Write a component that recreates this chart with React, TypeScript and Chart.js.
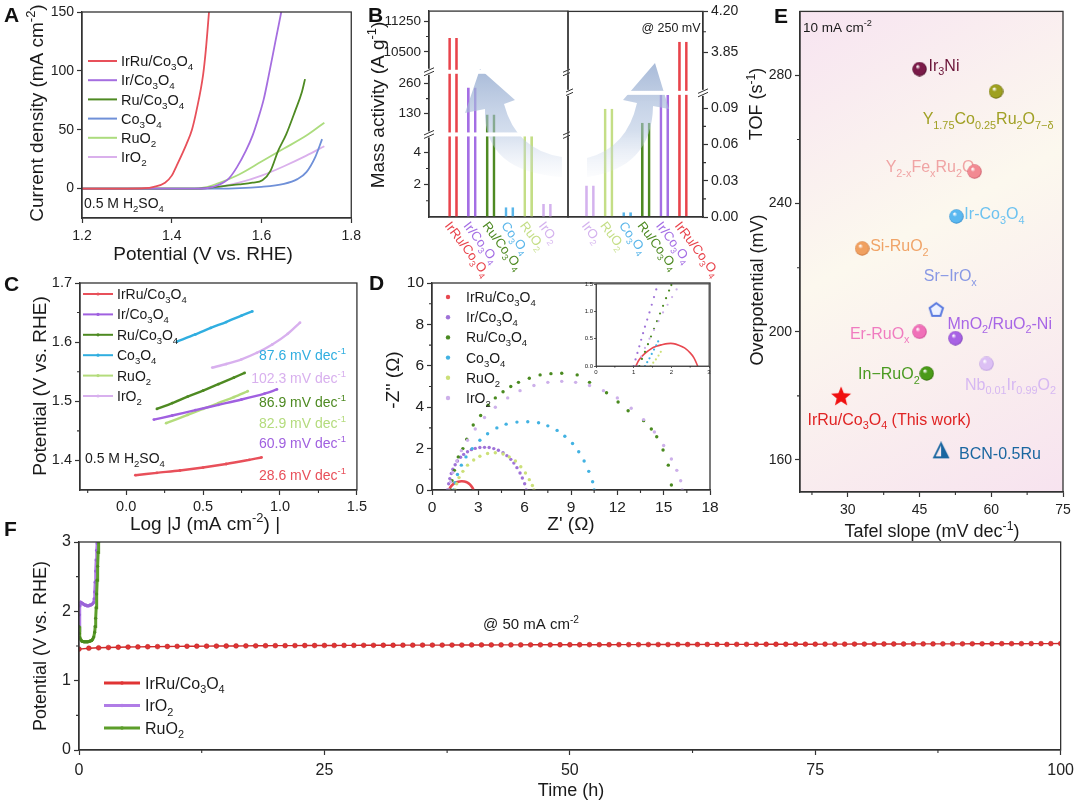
import { useEffect, useRef } from 'react';
import { Chart, registerables } from 'chart.js';

Chart.register(...registerables);

const FONT = '"Liberation Sans", Arial, Helvetica, sans-serif';
Chart.defaults.font.family = FONT;

/* ============================ DATA ============================ */
const seriesNames = ['IrRu/Co_{3}O_{4}', 'Ir/Co_{3}O_{4}', 'Ru/Co_{3}O_{4}', 'Co_{3}O_{4}', 'RuO_{2}', 'IrO_{2}'];

// ---- A: polarization curves (V vs RHE, mA cm-2)
const aIrRuV = [1.2, 1.3, 1.34, 1.36, 1.385, 1.4, 1.411, 1.433, 1.445, 1.455, 1.47, 1.476, 1.483];
const aIrRuJ = [0, 0, 0.3, 1.5, 5, 11, 19.5, 38, 50, 66, 97, 118, 150];
const aIrV = [1.2, 1.45, 1.48, 1.5, 1.527, 1.545, 1.565, 1.58, 1.593, 1.605, 1.615, 1.631, 1.644];
const aIrJ = [0, 0, 0.5, 2.5, 8.5, 18, 32, 45, 60, 76, 94, 125, 150];
const aRuV = [1.2, 1.46, 1.5, 1.55, 1.58, 1.602, 1.62, 1.637, 1.655, 1.675, 1.69, 1.697];
const aRuJ = [0, 0, 1.5, 3.5, 5, 7, 15, 32, 46, 66, 82, 93];
const aCoV = [1.2, 1.5, 1.6, 1.65, 1.68, 1.7, 1.72, 1.735];
const aCoJ = [0, 0, 1.5, 4, 8, 14, 27, 42];
const aRuO2V = [1.2, 1.45, 1.48, 1.5, 1.55, 1.6, 1.65, 1.7, 1.74];
const aRuO2J = [0, 0, 1.5, 4, 12, 23, 34, 45, 56];
const aIrO2V = [1.2, 1.48, 1.5, 1.55, 1.6, 1.65, 1.7, 1.74];
const aIrO2J = [0, 0, 1, 5, 11, 19, 28, 36];
const aXTicks = [1.2, 1.4, 1.6, 1.8];
const aYTicks = [0, 50, 100, 150];

// ---- B: mass activity (broken axes)
const bLeftVals = [10840, 243, 126, 0.6, 5.0, 0.8]; // A g-1, order = seriesNames
const bRightVals = [0.026, 0.0895, 0.004, 0.078, 0.101, 3.94]; // order = reversed seriesNames
const bLeftTicks = [2, 4, 130, 260, 10500, 11250];
const bLeftMinor = [1, 3, 195, 10875];
const bRightTicks = [0, 0.03, 0.06, 0.09, 3.85, 4.2];
const bRightMinor = [0.015, 0.045, 0.075, 4.025];
const bLeftSegs = [[0, 5.1], [39, 312], [10016, 11492]];
const bLeftDisp = [[0, 83], [83, 146], [146, 207]];
const bRightSegs = [[0, 0.1027], [3.5, 4.2]];
const bRightDisp = [[0, 125], [125, 207]];

// ---- C: Tafel plots (log J, V)
const cIrRuX = [0.06, 0.2, 0.35, 0.5, 0.65, 0.8, 0.88];
const cIrRuY = [1.375, 1.379, 1.383, 1.388, 1.394, 1.401, 1.405];
const cIrX = [0.18, 0.3, 0.45, 0.6, 0.75, 0.9, 0.98];
const cIrY = [1.469, 1.476, 1.485, 1.494, 1.503, 1.513, 1.52];
const cRuX = [0.2, 0.3, 0.4, 0.5, 0.6, 0.7, 0.77];
const cRuY = [1.487, 1.497, 1.508, 1.518, 1.529, 1.54, 1.548];
const cCoX = [0.33, 0.45, 0.55, 0.65, 0.75, 0.82];
const cCoY = [1.601, 1.613, 1.624, 1.634, 1.645, 1.652];
const cRuO2X = [0.26, 0.4, 0.5, 0.6, 0.7, 0.79];
const cRuO2Y = [1.463, 1.477, 1.487, 1.497, 1.507, 1.517];
const cIrO2X = [0.56, 0.65, 0.75, 0.85, 0.95, 1.05, 1.13];
const cIrO2Y = [1.557, 1.563, 1.571, 1.582, 1.596, 1.614, 1.633];
const cSlopes = [28.6, 60.9, 86.9, 87.6, 82.9, 102.3];

// ---- D: Nyquist plots (Z', -Z'')
const dIrRuX = [1.1, 1.2, 1.35, 1.5, 1.7, 1.9, 2.1, 2.3, 2.45, 2.6, 2.7];
const dIrRuY = [0, 0.15, 0.27, 0.35, 0.4, 0.42, 0.41, 0.36, 0.27, 0.13, 0];
const dIrX = [1.0, 1.08, 1.15, 1.25, 1.35, 1.5, 1.65, 1.85, 2.05, 2.3, 2.55, 2.8, 3.1, 3.4, 3.7, 4.0, 4.3, 4.6, 4.85, 5.1, 5.3, 5.5, 5.7, 5.85, 6.0, 6.1];
const dIrY = [0, 0.3, 0.55, 0.8, 1.0, 1.22, 1.4, 1.58, 1.72, 1.85, 1.95, 2.01, 2.05, 2.06, 2.05, 2.0, 1.92, 1.8, 1.66, 1.48, 1.3, 1.08, 0.82, 0.58, 0.3, 0];
const dRuX = [1.2, 1.3, 1.45, 1.7, 2.0, 2.25, 2.67, 3.15, 3.63, 4.1, 4.6, 5.1, 5.6, 6.3, 7.0, 7.7, 8.4, 9.4, 10.2, 11.3, 12.05, 12.7, 13.7, 14.2, 14.55, 14.96, 15.3, 15.5];
const dRuY = [0, 0.45, 0.95, 1.6, 2.0, 2.45, 3.14, 3.6, 4.1, 4.45, 4.75, 5.0, 5.2, 5.4, 5.56, 5.62, 5.64, 5.56, 5.2, 4.7, 4.25, 3.83, 3.35, 2.95, 2.57, 1.93, 1.2, 0.24];
const dCoX = [1.4, 1.5, 1.65, 1.9, 2.2, 2.6, 3.1, 3.6, 4.2, 4.8, 5.5, 6.2, 6.9, 7.5, 8.1, 8.6, 9.1, 9.5, 9.85, 10.15, 10.4, 10.5];
const dCoY = [0, 0.35, 0.75, 1.2, 1.6, 2.0, 2.4, 2.72, 3.0, 3.18, 3.28, 3.3, 3.25, 3.1, 2.88, 2.6, 2.25, 1.85, 1.4, 0.9, 0.4, 0];
const dRuO2X = [1.5, 1.6, 1.75, 2.0, 2.3, 2.7, 3.1, 3.6, 4.1, 4.6, 5.0, 5.4, 5.75, 6.05, 6.3, 6.5, 6.6];
const dRuO2Y = [0, 0.3, 0.6, 0.9, 1.2, 1.45, 1.63, 1.76, 1.8, 1.74, 1.6, 1.4, 1.12, 0.82, 0.5, 0.22, 0];
const dIrO2X = [1.1, 1.2, 1.35, 1.6, 1.9, 2.3, 2.8, 3.4, 4.1, 4.9, 5.7, 6.6, 7.5, 8.4, 9.3, 10.2, 11.1, 12.0, 12.9, 13.7, 14.4, 15.0, 15.5, 15.85, 16.1, 16.2];
const dIrO2Y = [0, 0.4, 0.85, 1.4, 1.9, 2.4, 2.95, 3.5, 4.0, 4.45, 4.8, 5.05, 5.2, 5.25, 5.2, 5.05, 4.8, 4.45, 3.95, 3.4, 2.8, 2.15, 1.5, 0.95, 0.45, 0];
// inset (high-frequency region)
const iIrRuX = [1.06, 1.15, 1.3, 1.45, 1.6, 1.75, 1.9, 2.05, 2.2, 2.35, 2.5, 2.6, 2.7];
const iIrRuY = [0, 0.12, 0.23, 0.31, 0.36, 0.39, 0.41, 0.41, 0.38, 0.33, 0.24, 0.15, 0];
const iIrX = [1.0, 1.05, 1.1, 1.15, 1.2, 1.25, 1.3, 1.36, 1.42, 1.48, 1.54, 1.6];
const iIrY = [0, 0.12, 0.24, 0.36, 0.48, 0.6, 0.72, 0.85, 0.98, 1.12, 1.26, 1.4];
const iRuX = [1.15, 1.22, 1.3, 1.38, 1.46, 1.54, 1.62, 1.7, 1.78, 1.86, 1.94, 2.0];
const iRuY = [0, 0.13, 0.26, 0.4, 0.54, 0.68, 0.82, 0.96, 1.1, 1.24, 1.38, 1.48];
const iCoX = [1.3, 1.36, 1.42, 1.48, 1.54, 1.6, 1.65];
const iCoY = [0, 0.07, 0.14, 0.22, 0.3, 0.38, 0.45];
const iRuO2X = [1.45, 1.52, 1.59, 1.66, 1.72];
const iRuO2Y = [0, 0.06, 0.12, 0.19, 0.26];
const iIrO2X = [1.1, 1.2, 1.3, 1.42, 1.54, 1.66, 1.78, 1.9, 2.02, 2.14];
const iIrO2Y = [0, 0.17, 0.33, 0.5, 0.66, 0.82, 0.98, 1.12, 1.26, 1.4];

// ---- E: comparison (Tafel slope, overpotential)
const eNames = ['Ir_{3}Ni', 'Y_{1.75}Co_{0.25}Ru_{2}O_{7−δ}', 'Y_{2-x}Fe_{x}Ru_{2}O_{7}', 'Ir-Co_{3}O_{4}', 'Si-RuO_{2}', 'Sr−IrO_{x}', 'Er-RuO_{x}', 'MnO_{2}/RuO_{2}-Ni', 'Nb_{0.01}Ir_{0.99}O_{2}', 'In−RuO_{2}', 'IrRu/Co_{3}O_{4} (This work)', 'BCN-0.5Ru'];
const eTafel = [45, 61, 56.5, 52.7, 33, 48.5, 45, 52.5, 59, 46.5, 28.6, 49.5];
const eOver = [282, 275, 250, 236, 226, 207, 200, 198, 190, 187, 180, 163];

// ---- F: stability (h, V)
const fRed = [
  1.455, 1.468, 1.474, 1.478, 1.482, 1.485, 1.487, 1.489, 1.491, 1.493,
  1.495, 1.496, 1.497, 1.498, 1.499, 1.5, 1.501, 1.502, 1.503, 1.504,
  1.505, 1.505, 1.506, 1.507, 1.507, 1.508, 1.508, 1.509, 1.509, 1.51,
  1.51, 1.511, 1.511, 1.512, 1.512, 1.513, 1.513, 1.513, 1.514, 1.514,
  1.515, 1.515, 1.515, 1.516, 1.516, 1.516, 1.517, 1.517, 1.517, 1.518,
  1.518, 1.518, 1.519, 1.519, 1.519, 1.52, 1.52, 1.52, 1.521, 1.521,
  1.521, 1.522, 1.522, 1.522, 1.523, 1.523, 1.523, 1.524, 1.524, 1.524,
  1.525, 1.525, 1.525, 1.526, 1.526, 1.526, 1.527, 1.527, 1.527, 1.528,
  1.528, 1.528, 1.529, 1.529, 1.529, 1.53, 1.53, 1.53, 1.531, 1.531,
  1.531, 1.532, 1.532, 1.532, 1.533, 1.533, 1.533, 1.534, 1.534, 1.534,
  1.535,
];
const fIrO2T = [0, 0.05, 0.1, 0.2, 0.3, 0.4, 0.5, 0.6, 0.7, 0.8, 0.9, 1.0, 1.1, 1.2, 1.3, 1.4, 1.5, 1.55, 1.6, 1.65, 1.7, 1.75, 1.8, 1.85, 1.9, 1.95, 2.0];
const fIrO2V = [1.72, 1.95, 2.08, 2.13, 2.12, 2.11, 2.1, 2.09, 2.09, 2.08, 2.08, 2.08, 2.09, 2.09, 2.1, 2.11, 2.13, 2.18, 2.28, 2.42, 2.58, 2.74, 2.88, 2.98, 3.05, 3.1, 3.15];
const fRuO2T = [0, 0.05, 0.1, 0.2, 0.3, 0.4, 0.5, 0.6, 0.7, 0.8, 0.9, 1.0, 1.1, 1.2, 1.3, 1.4, 1.5, 1.6, 1.65, 1.7, 1.75, 1.8, 1.85, 1.9, 1.95, 2.0, 2.05];
const fRuO2V = [1.78, 1.68, 1.62, 1.59, 1.57, 1.565, 1.56, 1.56, 1.56, 1.56, 1.56, 1.565, 1.57, 1.575, 1.58, 1.6, 1.63, 1.7, 1.78, 1.9, 2.05, 2.25, 2.45, 2.65, 2.85, 3.0, 3.1];
const fNames = ['IrRu/Co_{3}O_{4}', 'IrO_{2}', 'RuO_{2}'];

/* ============================ STYLE / LAYOUT ============================ */
const aColors = ['#e8505a', '#a56ee0', '#4e8a22', '#6f90d8', '#acdc7e', '#dab0ec'];
const bColors = ['#e8434b', '#a46ee4', '#4e8a22', '#5ab6ea', '#c4de86', '#d4b2ee'];
const cColors = ['#e8505a', '#a060e0', '#4e8a22', '#30aee0', '#b4dc7c', '#d8b0ee'];
const dColors = ['#e84850', '#9f72d8', '#4a8a20', '#42b2e2', '#cce078', '#cdb0ea'];
const fColors = ['#e03434', '#b07ce6', '#5c9e2a'];
const cLabelY = [475, 443, 402, 355, 423, 378];
const eStyle = [
  { kind: 'sphere', c: '#7a1a48', k: '#3a0a20', tc: '#6a1438', dx: 9, dy: -4, al: 'left' },
  { kind: 'sphere', c: '#9ea020', k: '#5a5a08', tc: '#a0a024', dx: -8, dy: 27, al: 'center' },
  { kind: 'sphere', c: '#f28a92', k: '#c05060', tc: '#f0a4a4', dx: 6, dy: -5, al: 'right' },
  { kind: 'sphere', c: '#5ab8f0', k: '#2a80c0', tc: '#6cc2f0', dx: 8, dy: -3, al: 'left' },
  { kind: 'sphere', c: '#f0a060', k: '#c06a30', tc: '#f0a468', dx: 8, dy: -3, al: 'left' },
  { kind: 'pent', c: '#5a7ae0', k: '', tc: '#8898e4', dx: 14, dy: -34, al: 'center' },
  { kind: 'sphere', c: '#f070b8', k: '#c03c88', tc: '#f07cc0', dx: -10, dy: 1, al: 'right' },
  { kind: 'sphere', c: '#a862e4', k: '#6a30a8', tc: '#a866e6', dx: -8, dy: -15, al: 'left' },
  { kind: 'sphere', c: '#dcc0f4', k: '#b090d8', tc: '#d6b8f2', dx: 24, dy: 20, al: 'center' },
  { kind: 'sphere', c: '#4a9a18', k: '#2a6008', tc: '#4a9a20', dx: -7, dy: 0, al: 'right' },
  { kind: 'star', c: '#f01010', k: '', tc: '#e02424', dx: 48, dy: 23, al: 'center' },
  { kind: 'tri', c: '#1a66a0', k: '', tc: '#1a66a0', dx: 18, dy: 3, al: 'left' },
];

type Box = { x: number; y: number; w: number; h: number };
type Plot = { l: number; t: number; r: number; b: number };
const CV: Record<string, Box> = {
  A: { x: 0, y: 0, w: 366, h: 265 },
  BL: { x: 364, y: 0, w: 206, h: 280 },
  BR: { x: 566, y: 0, w: 180, h: 280 },
  C: { x: 0, y: 265, w: 370, h: 275 },
  D: { x: 370, y: 265, w: 372, h: 275 },
  DI: { x: 578, y: 279, w: 136, h: 96 },
  F: { x: 0, y: 525, w: 1080, h: 278 },
  E: { x: 742, y: 0, w: 338, h: 545 },
};
const PL: Record<string, Plot> = {
  A: { l: 82, t: 12, r: 359, b: 218 },
  BL: { l: 429, t: 10, r: 568, b: 217 },
  BR: { l: 568, t: 10, r: 703, b: 217 },
  C: { l: 80, t: 283, r: 358, b: 490 },
  D: { l: 432, t: 283, r: 710, b: 490 },
  DI: { l: 596, t: 284, r: 709, b: 366 },
  F: { l: 79, t: 542, r: 1063, b: 750 },
  E: { l: 800, t: 10, r: 1063, b: 492 },
};
const ORDER = ['A', 'BL', 'BR', 'C', 'D', 'DI', 'F', 'E'];
const LETTERS = [
  { t: 'A', x: 4, y: 4 }, { t: 'B', x: 368, y: 4 }, { t: 'C', x: 4, y: 273 },
  { t: 'D', x: 369, y: 272 }, { t: 'E', x: 774, y: 5 }, { t: 'F', x: 4, y: 518 },
];

/* ============================ HELPERS ============================ */
const zip = (xs: number[], ys: number[]) => xs.map((x, i) => ({ x, y: ys[i] }));

function parseRich(s: string) {
  const out: { t: string; k: number }[] = [];
  let buf = '';
  for (let i = 0; i < s.length; i++) {
    const ch = s[i];
    if ((ch === '_' || ch === '^') && s[i + 1] === '{') {
      if (buf) { out.push({ t: buf, k: 0 }); buf = ''; }
      const e = s.indexOf('}', i);
      out.push({ t: s.slice(i + 2, e), k: ch === '_' ? 1 : 2 });
      i = e;
    } else buf += ch;
  }
  if (buf) out.push({ t: buf, k: 0 });
  return out;
}

function drawRich(ctx: any, s: string, x: number, y: number, size: number, color: string, align = 'left', rot = 0, bold = false) {
  const parts = parseRich(s);
  ctx.save();
  ctx.translate(x, y);
  ctx.rotate(rot);
  ctx.fillStyle = color;
  ctx.textBaseline = 'alphabetic';
  ctx.textAlign = 'left';
  const w8 = bold ? 'bold ' : '';
  let w = 0;
  for (const p of parts) { ctx.font = `${w8}${p.k ? size * 0.68 : size}px ${FONT}`; w += ctx.measureText(p.t).width; }
  let cx = align === 'left' ? 0 : align === 'center' ? -w / 2 : -w;
  const base = size * 0.36;
  for (const p of parts) {
    ctx.font = `${w8}${p.k ? size * 0.68 : size}px ${FONT}`;
    const dy = p.k === 1 ? size * 0.28 : p.k === 2 ? -size * 0.42 : 0;
    ctx.fillText(p.t, cx, base + dy);
    cx += ctx.measureText(p.t).width;
  }
  ctx.restore();
}

function brk(v: number, segs: number[][], disp: number[][]) {
  for (let i = 0; i < segs.length; i++) {
    if (v <= segs[i][1] || i === segs.length - 1) {
      const [a, b] = segs[i];
      const [c, d] = disp[i];
      return c + ((Math.max(v, a) - a) / (b - a)) * (d - c);
    }
  }
  return 0;
}

function mkAxis(pos: string, min: number, max: number, ticks: number[], fmt: (v: number) => string, size: number, opt: any = {}) {
  return {
    type: 'linear', position: pos, min, max, offset: false,
    afterBuildTicks: (s: any) => { s.ticks = ticks.map((v) => ({ value: opt.map ? opt.map(v) : v })); },
    ticks: {
      display: !opt.noLabels, autoSkip: false, maxRotation: 0, minRotation: 0, padding: opt.pad ?? 3,
      font: { family: FONT, size }, color: '#222', callback: (_v: any, i: number) => fmt(ticks[i]),
    },
    grid: { display: true, drawOnChartArea: false, drawTicks: !opt.noTicks, tickLength: opt.tl ?? 5, tickWidth: opt.tw ?? 1.2, tickColor: '#333', offset: false },
    border: { display: true, color: '#333', width: opt.bw ?? 1.3 },
  };
}

// axis boxes take the whole margin on their side (so tick labels are not clipped)
function baseOpts(k: string, scales: any) {
  const c = CV[k], p = PL[k];
  const m: any = { left: p.l - c.x, top: p.t - c.y, right: c.x + c.w - p.r, bottom: c.y + c.h - p.b };
  const pad: any = { ...m };
  for (const key of Object.keys(scales)) {
    const s = scales[key];
    const side = s.position;
    const w = m[side];
    pad[side] = 0;
    s.afterFit = (sc: any) => { if (side === 'left' || side === 'right') sc.width = w; else sc.height = w; };
  }
  return {
    responsive: false, maintainAspectRatio: false, animation: false, events: [],
    layout: { autoPadding: false, padding: pad },
    plugins: { legend: { display: false }, tooltip: { enabled: false } },
    scales,
  };
}

type Txt = { s: string; x: number; y: number; size: number; color?: string; align?: string; rot?: number };
function deco(k: string, d: { texts?: Txt[]; box?: boolean; boxW?: number; minors?: { id: string; vals: number[]; len?: number }[]; bg?: any; pre?: any; post?: any }) {
  const ox = CV[k].x, oy = CV[k].y;
  return {
    id: 'deco' + k,
    beforeDraw(c: any) { if (d.bg) { c.ctx.save(); d.bg(c, c.ctx, ox, oy); c.ctx.restore(); } },
    beforeDatasetsDraw(c: any) { if (d.pre) { c.ctx.save(); d.pre(c, c.ctx, ox, oy); c.ctx.restore(); } },
    afterDraw(c: any) {
      const ctx = c.ctx, a = c.chartArea;
      ctx.save();
      if (d.box) { ctx.strokeStyle = '#333'; ctx.lineWidth = d.boxW ?? 1.3; ctx.strokeRect(a.left, a.top, a.right - a.left, a.bottom - a.top); }
      for (const m of d.minors || []) {
        const s = c.scales[m.id];
        const L = m.len ?? 3;
        ctx.strokeStyle = '#333'; ctx.lineWidth = 1.1; ctx.beginPath();
        for (const v of m.vals) {
          const p = s.getPixelForValue(v);
          if (s.position === 'bottom') { ctx.moveTo(p, a.bottom); ctx.lineTo(p, a.bottom + L); }
          else if (s.position === 'left') { ctx.moveTo(a.left, p); ctx.lineTo(a.left - L, p); }
          else if (s.position === 'right') { ctx.moveTo(a.right, p); ctx.lineTo(a.right + L, p); }
        }
        ctx.stroke();
      }
      for (const t of d.texts || []) drawRich(ctx, t.s, t.x - ox, t.y - oy, t.size, t.color || '#1a1a1a', t.align || 'left', t.rot || 0);
      if (d.post) d.post(c, ctx, ox, oy);
      ctx.restore();
    },
  };
}

function legend(ctx: any, ox: number, oy: number, names: string[], colors: string[], o: { x1: number; x2: number; tx: number; y0: number; dy: number; size: number; dot: number; lw: number }) {
  names.forEach((n, i) => {
    const y = o.y0 + i * o.dy - oy;
    if (o.x2 > o.x1) {
      ctx.strokeStyle = colors[i]; ctx.lineWidth = o.lw; ctx.beginPath();
      ctx.moveTo(o.x1 - ox, y); ctx.lineTo(o.x2 - ox, y); ctx.stroke();
    }
    if (o.dot) { ctx.fillStyle = colors[i]; ctx.beginPath(); ctx.arc((o.x1 + o.x2) / 2 - ox, y, o.dot, 0, Math.PI * 2); ctx.fill(); }
    drawRich(ctx, n, o.tx - ox, y, o.size, '#1a1a1a', 'left', 0);
  });
}

const ROT = -Math.PI / 2;

/* ---- point style canvases for panel E ---- */
function mkCanvas(d: number) { const cv = document.createElement('canvas'); cv.width = d; cv.height = d; return cv; }
function sphere(base: string, dark: string, d = 15) {
  const cv = mkCanvas(d); const g = cv.getContext('2d')!; const r = d / 2;
  const gr = g.createRadialGradient(r * 0.72, r * 0.62, r * 0.06, r, r, r);
  gr.addColorStop(0, '#ffffff'); gr.addColorStop(0.28, base); gr.addColorStop(0.8, base); gr.addColorStop(1, dark);
  g.fillStyle = gr; g.beginPath(); g.arc(r, r, r - 0.3, 0, Math.PI * 2); g.fill();
  return cv;
}
function star(color: string, d = 22) {
  const cv = mkCanvas(d); const g = cv.getContext('2d')!; const r = d / 2;
  g.fillStyle = color; g.beginPath();
  for (let i = 0; i < 10; i++) {
    const rr = i % 2 === 0 ? r - 0.5 : r * 0.42;
    const a = -Math.PI / 2 + (i * Math.PI) / 5;
    const px = r + rr * Math.cos(a), py = r + 1 + rr * Math.sin(a);
    if (i === 0) g.moveTo(px, py); else g.lineTo(px, py);
  }
  g.closePath(); g.fill();
  return cv;
}
function pentagon(color: string, d = 17) {
  const cv = mkCanvas(d); const g = cv.getContext('2d')!; const r = d / 2 - 1.5;
  g.beginPath();
  for (let i = 0; i < 5; i++) {
    const a = -Math.PI / 2 + (i * 2 * Math.PI) / 5;
    const px = d / 2 + r * Math.cos(a), py = d / 2 + 0.8 + r * Math.sin(a);
    if (i === 0) g.moveTo(px, py); else g.lineTo(px, py);
  }
  g.closePath(); g.fillStyle = '#eef2ff'; g.fill(); g.strokeStyle = color; g.lineWidth = 2; g.stroke();
  return cv;
}
function triangle(color: string, d = 18) {
  const cv = mkCanvas(d); const g = cv.getContext('2d')!;
  const top = [d / 2, 2], bl = [2, d - 2], br = [d - 2, d - 2];
  g.fillStyle = color; g.beginPath(); g.moveTo(top[0], top[1]); g.lineTo(br[0], br[1]); g.lineTo(d / 2, br[1]); g.closePath(); g.fill();
  g.strokeStyle = color; g.lineWidth = 1.8; g.beginPath(); g.moveTo(top[0], top[1]); g.lineTo(bl[0], bl[1]); g.lineTo(br[0], br[1]); g.closePath(); g.stroke();
  return cv;
}

/* ---- B decorations ---- */
function breaks(c: any, ctx: any, cuts: number[], leftMarks: number[], rightMarks: number[]) {
  const a = c.chartArea, ys = c.scales.y;
  ctx.fillStyle = '#ffffff';
  for (const d of cuts) { const p = ys.getPixelForValue(d); ctx.fillRect(a.left + 1.5, p - 2, a.right - a.left - 3, 4); }
  const mark = (x: number, p: number) => {
    ctx.fillStyle = '#ffffff'; ctx.fillRect(x - 2, p - 3, 4, 6);
    ctx.strokeStyle = '#333'; ctx.lineWidth = 1; ctx.beginPath();
    ctx.moveTo(x - 5, p + 0.5); ctx.lineTo(x + 5, p - 4);
    ctx.moveTo(x - 5, p + 4); ctx.lineTo(x + 5, p - 0.5);
    ctx.stroke();
  };
  leftMarks.forEach((d) => mark(a.left, ys.getPixelForValue(d)));
  rightMarks.forEach((d) => mark(a.right, ys.getPixelForValue(d)));
}
function arrowPath(ctx: any, cmds: any[], ox: number, oy: number, y0: number, y1: number) {
  const g = ctx.createLinearGradient(0, y0 - oy, 0, y1 - oy);
  g.addColorStop(0, 'rgba(150,172,208,0.82)');
  g.addColorStop(0.6, 'rgba(178,196,224,0.55)');
  g.addColorStop(1, 'rgba(215,224,240,0.1)');
  ctx.fillStyle = g; ctx.beginPath();
  for (const c of cmds) {
    if (c[0] === 'M') ctx.moveTo(c[1] - ox, c[2] - oy);
    else if (c[0] === 'L') ctx.lineTo(c[1] - ox, c[2] - oy);
    else if (c[0] === 'Q') ctx.quadraticCurveTo(c[1] - ox, c[2] - oy, c[3] - ox, c[4] - oy);
  }
  ctx.closePath(); ctx.fill();
}
function barLabels(c: any, ctx: any, names: string[], colors: string[]) {
  const xs = c.scales.x, a = c.chartArea;
  names.forEach((n, i) => {
    const px = xs.getPixelForValue(i + 1);
    drawRich(ctx, n, px - 5, a.bottom + 6, 13, colors[i], 'left', 0.92);
  });
}

/* ============================ COMPONENT ============================ */
export default function App() {
  const root = useRef<HTMLDivElement>(null);

  useEffect(() => {
    const get = (k: string) => root.current!.querySelector(`canvas[data-k="${k}"]`) as HTMLCanvasElement;
    const charts: Chart[] = [];

    /* ---------- A ---------- */
    const aSeries = [zip(aIrRuV, aIrRuJ), zip(aIrV, aIrJ), zip(aRuV, aRuJ), zip(aCoV, aCoJ), zip(aRuO2V, aRuO2J), zip(aIrO2V, aIrO2J)];
    charts.push(new Chart(get('A'), {
      type: 'line',
      data: { datasets: aSeries.map((d, i) => ({ data: d, borderColor: aColors[i], borderWidth: 1.8, pointRadius: 0, cubicInterpolationMode: 'monotone', fill: false })) } as any,
      options: baseOpts('A', {
        x: mkAxis('bottom', 1.2, 1.8, aXTicks, (v) => v.toFixed(1), 14, { pad: 5 }),
        y: mkAxis('left', -25, 150, aYTicks, (v) => String(v), 14),
      }) as any,
      plugins: [deco('A', {
        box: true,
        texts: [
          { s: 'Current density (mA cm^{-2})', x: 36, y: 113, size: 19, align: 'center', rot: ROT },
          { s: 'Potential (V vs. RHE)', x: 203, y: 253, size: 19, align: 'center' },
          { s: '0.5 M H_{2}SO_{4}', x: 84, y: 203, size: 14 },
        ],
        post: (c: any, ctx: any, ox: number, oy: number) => legend(ctx, ox, oy, seriesNames, aColors, { x1: 88, x2: 117, tx: 121, y0: 61, dy: 19.2, size: 14.5, dot: 0, lw: 2 }),
      })],
    } as any));

    /* ---------- B left ---------- */
    const fL = (v: number) => brk(v, bLeftSegs, bLeftDisp);
    const fR = (v: number) => brk(v, bRightSegs, bRightDisp);
    charts.push(new Chart(get('BL'), {
      type: 'bar',
      data: { datasets: [{ data: bLeftVals.map((v, i) => ({ x: i + 1, y: fL(v) })), borderColor: bColors, backgroundColor: 'rgba(255,255,255,0)', borderWidth: { left: 2, right: 2, top: 0, bottom: 0 }, barThickness: 9 }] } as any,
      options: baseOpts('BL', {
        x: mkAxis('bottom', -0.28, 7.12, [], () => '', 13, { noLabels: true, noTicks: true }),
        y: mkAxis('left', 0, 207, bLeftTicks, (v) => String(v), 13.5, { map: fL }),
      }) as any,
      plugins: [deco('BL', {
        box: true,
        bg: (c: any, ctx: any) => { ctx.fillStyle = '#fff'; ctx.fillRect(0, 0, c.width, c.height); },
        minors: [{ id: 'y', vals: bLeftMinor.map(fL) }],
        texts: [{ s: 'Mass activity (A g^{-1})', x: 377, y: 105, size: 19, align: 'center', rot: ROT }],
        post: (c: any, ctx: any, ox: number, oy: number) => {
          arrowPath(ctx, [['M', 480, 69], ['L', 515, 100], ['L', 504, 104], ['Q', 516, 150, 562, 157], ['L', 562, 177], ['Q', 483, 172, 485, 109], ['L', 465, 113]], ox, oy, 70, 176);
          breaks(c, ctx, [83, 146], [83, 146], [83, 146]);
          barLabels(c, ctx, seriesNames, bColors);
        },
      })],
    } as any));

    /* ---------- B right ---------- */
    const bRightNames = [...seriesNames].reverse();
    const bRightColors = [...bColors].reverse();
    charts.push(new Chart(get('BR'), {
      type: 'bar',
      data: { datasets: [{ data: bRightVals.map((v, i) => ({ x: i + 1, y: fR(v) })), borderColor: bRightColors, backgroundColor: 'rgba(255,255,255,0)', borderWidth: { left: 2, right: 2, top: 0, bottom: 0 }, barThickness: 9 }] } as any,
      options: baseOpts('BR', {
        x: mkAxis('bottom', -0.18, 7.08, [], () => '', 13, { noLabels: true, noTicks: true }),
        y: mkAxis('right', 0, 207, bRightTicks, (v) => v.toFixed(2), 14, { map: fR }),
      }) as any,
      plugins: [deco('BR', {
        box: true,
        minors: [{ id: 'y', vals: bRightMinor.map(fR) }],
        texts: [{ s: '@ 250 mV', x: 671, y: 27, size: 12.5, align: 'center' }],
        post: (c: any, ctx: any, ox: number, oy: number) => {
          arrowPath(ctx, [['M', 655, 63], ['L', 669, 109], ['L', 653, 106], ['Q', 652, 168, 587, 177], ['L', 587, 158], ['Q', 627, 148, 637, 103], ['L', 623, 100]], ox, oy, 64, 176);
          breaks(c, ctx, [125], [125], [125]);
          barLabels(c, ctx, bRightNames, bRightColors);
        },
      })],
    } as any));

    /* ---------- C ---------- */
    const cSeries = [zip(cIrRuX, cIrRuY), zip(cIrX, cIrY), zip(cRuX, cRuY), zip(cCoX, cCoY), zip(cRuO2X, cRuO2Y), zip(cIrO2X, cIrO2Y)];
    charts.push(new Chart(get('C'), {
      type: 'line',
      data: { datasets: cSeries.map((d, i) => ({ data: d, borderColor: cColors[i], borderWidth: 2.4, pointRadius: 1.4, pointBackgroundColor: cColors[i], pointBorderWidth: 0, tension: 0.3, fill: false })) } as any,
      options: baseOpts('C', {
        x: mkAxis('bottom', -0.3, 1.5, [0, 0.5, 1, 1.5], (v) => v.toFixed(1), 14.5),
        y: mkAxis('left', 1.35, 1.7, [1.4, 1.5, 1.6, 1.7], (v) => v.toFixed(1), 14.5),
      }) as any,
      plugins: [deco('C', {
        box: true,
        minors: [{ id: 'x', vals: [-0.25, 0.25, 0.75, 1.25] }, { id: 'y', vals: [1.45, 1.55, 1.65] }],
        texts: [
          { s: 'Potential (V vs. RHE)', x: 39, y: 386, size: 19, align: 'center', rot: ROT },
          { s: 'Log |J (mA cm^{-2}) |', x: 205, y: 523, size: 19, align: 'center' },
          { s: '0.5 M H_{2}SO_{4}', x: 85, y: 458, size: 14 },
          ...cSlopes.map((s, i) => ({ s: `${s.toFixed(1)} mV dec^{-1}`, x: 346, y: cLabelY[i], size: 14, color: cColors[i], align: 'right' })),
        ],
        post: (c: any, ctx: any, ox: number, oy: number) => legend(ctx, ox, oy, seriesNames, cColors, { x1: 83, x2: 113, tx: 117, y0: 294, dy: 20.4, size: 14, dot: 1.6, lw: 2 }),
      })],
    } as any));

    /* ---------- D ---------- */
    const dSeries = [zip(dIrRuX, dIrRuY), zip(dIrX, dIrY), zip(dRuX, dRuY), zip(dCoX, dCoY), zip(dRuO2X, dRuO2Y), zip(dIrO2X, dIrO2Y)];
    const dOrder = [5, 4, 3, 2, 1, 0];
    charts.push(new Chart(get('D'), {
      type: 'scatter',
      data: {
        datasets: dOrder.map((i) => ({
          data: dSeries[i], borderColor: dColors[i], backgroundColor: dColors[i],
          showLine: i === 0, borderWidth: 2.6, pointRadius: i === 0 ? 0 : 1.7, pointBorderWidth: 0, tension: 0.4,
        })),
      } as any,
      options: baseOpts('D', {
        x: mkAxis('bottom', 0, 18, [0, 3, 6, 9, 12, 15, 18], (v) => String(v), 15.5),
        y: mkAxis('left', 0, 10, [0, 2, 4, 6, 8, 10], (v) => String(v), 15.5),
      }) as any,
      plugins: [deco('D', {
        box: true,
        minors: [{ id: 'x', vals: [1.5, 4.5, 7.5, 10.5, 13.5, 16.5] }, { id: 'y', vals: [1, 3, 5, 7, 9] }],
        texts: [
          { s: "-Z'' (Ω)", x: 392, y: 380, size: 19, align: 'center', rot: ROT },
          { s: "Z' (Ω)", x: 571, y: 523, size: 19, align: 'center' },
        ],
        post: (c: any, ctx: any, ox: number, oy: number) => legend(ctx, ox, oy, seriesNames, dColors, { x1: 448, x2: 448, tx: 466, y0: 297, dy: 20.2, size: 14, dot: 2.2, lw: 0 }),
      })],
    } as any));

    /* ---------- D inset ---------- */
    const iSeries = [zip(iIrRuX, iIrRuY), zip(iIrX, iIrY), zip(iRuX, iRuY), zip(iCoX, iCoY), zip(iRuO2X, iRuO2Y), zip(iIrO2X, iIrO2Y)];
    charts.push(new Chart(get('DI'), {
      type: 'scatter',
      data: {
        datasets: dOrder.map((i) => ({
          data: iSeries[i], borderColor: dColors[i], backgroundColor: dColors[i],
          showLine: i === 0, borderWidth: 1.6, pointRadius: i === 0 ? 0 : 1.1, pointBorderWidth: 0, tension: 0.4,
        })),
      } as any,
      options: baseOpts('DI', {
        x: mkAxis('bottom', 0, 3, [0, 1, 2, 3], (v) => String(v), 6, { tl: 2, pad: 1, bw: 0.8, tw: 0.8 }),
        y: mkAxis('left', 0, 1.5, [0, 0.5, 1, 1.5], (v) => v.toFixed(1), 6, { tl: 2, pad: 1, bw: 0.8, tw: 0.8 }),
      }) as any,
      plugins: [deco('DI', {
        box: true, boxW: 0.8,
        bg: (c: any, ctx: any) => { const a = c.chartArea; ctx.fillStyle = '#fff'; ctx.fillRect(a.left, a.top, a.right - a.left, a.bottom - a.top); },
        minors: [{ id: 'x', vals: [0.5, 1.5, 2.5], len: 1.5 }],
      })],
    } as any));

    /* ---------- F ---------- */
    charts.push(new Chart(get('F'), {
      type: 'line',
      data: {
        datasets: [
          { data: fRed.map((v, i) => ({ x: i, y: v })), borderColor: '#d02a2a', borderWidth: 1.4, pointRadius: 2.4, pointBackgroundColor: fColors[0], pointBorderColor: '#b81c1c', pointBorderWidth: 0.5, fill: false },
          { data: zip(fRuO2T, fRuO2V), borderColor: fColors[2], borderWidth: 3, pointRadius: 1.6, pointBackgroundColor: '#4a8a1e', pointBorderWidth: 0, fill: false },
          { data: zip(fIrO2T, fIrO2V), borderColor: fColors[1], borderWidth: 3, pointRadius: 1.6, pointBackgroundColor: '#9a64d8', pointBorderWidth: 0, fill: false },
        ],
      } as any,
      options: baseOpts('F', {
        x: mkAxis('bottom', 0, 100, [0, 25, 50, 75, 100], (v) => String(v), 16, { pad: 6 }),
        y: mkAxis('left', 0, 3, [0, 1, 2, 3], (v) => String(v), 16),
      }) as any,
      plugins: [deco('F', {
        box: true,
        minors: [{ id: 'x', vals: [12.5, 37.5, 62.5, 87.5] }, { id: 'y', vals: [0.5, 1.5, 2.5] }],
        texts: [
          { s: 'Potential (V vs. RHE)', x: 40, y: 646, size: 18, align: 'center', rot: ROT },
          { s: 'Time (h)', x: 571, y: 790, size: 18, align: 'center' },
          { s: '@ 50 mA cm^{-2}', x: 531, y: 624, size: 15, align: 'center' },
        ],
        post: (c: any, ctx: any, ox: number, oy: number) => legend(ctx, ox, oy, fNames, fColors, { x1: 104, x2: 140, tx: 145, y0: 683, dy: 22.5, size: 16, dot: 1.8, lw: 3 }),
      })],
    } as any));

    /* ---------- E ---------- */
    const ePts = eStyle.map((s) =>
      s.kind === 'sphere' ? sphere(s.c, s.k) : s.kind === 'star' ? star(s.c) : s.kind === 'pent' ? pentagon(s.c) : triangle(s.c));
    charts.push(new Chart(get('E'), {
      type: 'scatter',
      data: { datasets: [{ data: zip(eTafel, eOver), pointStyle: ePts, pointRadius: 7 }] } as any,
      options: baseOpts('E', {
        x: mkAxis('bottom', 20, 75, [30, 45, 60, 75], (v) => String(v), 14, { pad: 5 }),
        y: mkAxis('left', 150, 300, [160, 200, 240, 280], (v) => String(v), 14),
      }) as any,
      plugins: [deco('E', {
        box: true,
        bg: (c: any, ctx: any) => {
          const a = c.chartArea;
          const g = ctx.createLinearGradient(a.left, a.top, a.right, a.bottom);
          g.addColorStop(0, '#f7e4f1'); g.addColorStop(0.45, '#fcf8ee'); g.addColorStop(1, '#f7e3ef');
          ctx.fillStyle = g; ctx.fillRect(a.left, a.top, a.right - a.left, a.bottom - a.top);
        },
        pre: (c: any, ctx: any) => {
          const xs = c.scales.x, ys = c.scales.y;
          eNames.forEach((n, i) => {
            const st = eStyle[i];
            drawRich(ctx, n, xs.getPixelForValue(eTafel[i]) + st.dx, ys.getPixelForValue(eOver[i]) + st.dy, 16, st.tc, st.al, 0);
          });
        },
        minors: [{ id: 'x', vals: [22.5, 37.5, 52.5, 67.5] }, { id: 'y', vals: [180, 220, 260] }],
        texts: [
          { s: 'TOF (s^{-1})', x: 756, y: 104, size: 18, align: 'center', rot: ROT },
          { s: 'Overpotential (mV)', x: 757, y: 290, size: 18, align: 'center', rot: ROT },
          { s: 'Tafel slope (mV dec^{-1})', x: 932, y: 531, size: 18, align: 'center' },
          { s: '10 mA cm^{-2}', x: 803, y: 27, size: 13.5 },
        ],
      })],
    } as any));

    return () => { charts.forEach((c) => c.destroy()); };
  }, []);

  return (
    <div ref={root} style={{ position: 'absolute', left: 0, top: 0, width: 1080, height: 803, background: '#ffffff', overflow: 'hidden', fontFamily: FONT }}>
      {ORDER.map((k) => (
        <canvas key={k} data-k={k} width={CV[k].w} height={CV[k].h}
          style={{ position: 'absolute', left: CV[k].x, top: CV[k].y, width: CV[k].w, height: CV[k].h }} />
      ))}
      {LETTERS.map((l) => (
        <div key={l.t} style={{ position: 'absolute', left: l.x, top: l.y, fontWeight: 'bold', fontSize: 21, lineHeight: '21px', color: '#111', fontFamily: FONT }}>{l.t}</div>
      ))}
    </div>
  );
}
